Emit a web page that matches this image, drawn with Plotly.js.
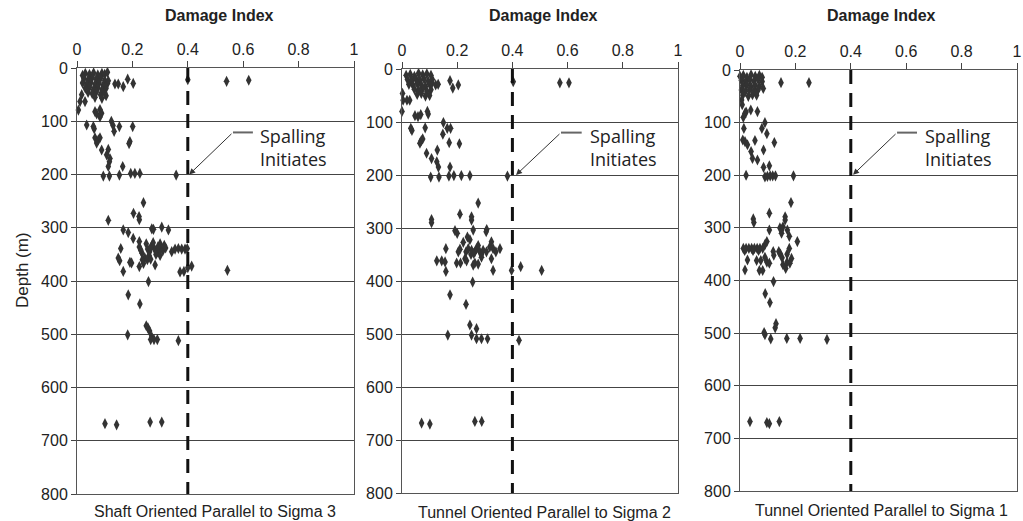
<!DOCTYPE html>
<html>
<head>
<meta charset="utf-8">
<script src="https://cdn.plot.ly/plotly-3.0.1.min.js"></script>
<style>html,body{margin:0;padding:0;background:#fff;}#chart{width:1023px;height:521px;}</style>
</head>
<body>
<div id="chart"></div>
<script>
// ---------- DATA ----------
const panelCaptions = ["Shaft Oriented Parallel to Sigma 3", "Tunnel Oriented Parallel to Sigma 2", "Tunnel Oriented Parallel to Sigma 1"];
const xAxisTitle = "Damage Index";
const yAxisTitle = "Depth (m)";
const spallingLabel = "Spalling<br>Initiates";
const spallingThreshold = 0.4;
const depthRange = [0, 800];
const xTickVals = [0, 0.2, 0.4, 0.6, 0.8, 1];
const xTickText = ["0", "0.2", "0.4", "0.6", "0.8", "1"];
const yTickVals = [0, 100, 200, 300, 400, 500, 600, 700, 800];

// Shaft parallel to Sigma 3
const sigma3Damage = [
0.02,0.03,0.045,0.06,0.075,0.09,0.10,0.11,
0.025,0.04,0.055,0.07,0.085,0.10,
0.02,0.035,0.05,0.065,0.08,0.095,0.11,
0.03,0.045,0.06,0.075,0.09,0.105,
0.04,0.055,0.07,0.085,0.10,
0.065,0.09,0.105,
0.113,0.137,0.149,0.167,0.183,0.203,
0.40,0.54,0.62,
0.017,0.011,0.029,0.005,
0.065,0.071,0.083,0.089,0.083,
0.035,0.059,0.062,0.124,0.130,0.134,0.153,0.201,
0.065,0.077,0.083,0.071,0.191,0.188,
0.089,0.113,0.107,0.119,0.117,0.113,0.165,
0.095,0.117,0.153,0.194,0.209,0.227,0.358,
0.24,0.204,0.224,0.113,0.225,
0.167,0.185,0.203,0.225,0.27,0.276,0.306,0.33,
0.158,0.225,
0.25,0.255,0.262,0.27,0.28,0.29,0.30,0.30,0.31,0.32,0.26,0.285,0.30,0.235,0.23,0.245,0.275,0.315,0.265,0.292,
0.342,0.354,0.366,0.378,0.39,0.398,
0.149,0.154,0.191,0.197,0.167,0.225,0.236,0.24,0.282,0.254,0.266,
0.372,0.386,0.40,0.414,0.543,
0.258,0.185,0.227,
0.25,0.256,0.262,0.183,0.27,0.278,0.29,0.266,0.366,
0.101,0.143,0.264,0.306];
const sigma3Depth = [
14,10,12,9,13,10,12,8,
20,22,18,21,19,23,
28,30,27,31,28,32,29,
38,36,40,37,41,38,
46,48,45,50,47,
55,57,52,
24,30,30,35,21,29,
22,25,23,
50,63,63,79,
82,86,78,85,92,
107,110,114,100,108,119,110,110,
131,135,131,141,138,142,
154,153,163,170,176,185,185,
203,203,201,198,198,198,201,
253,273,279,286,285,
304,309,320,326,302,303,299,304,
339,336,
330,340,345,334,340,345,330,338,343,338,352,350,352,348,342,357,328,333,338,336,
345,340,339,340,340,339,
357,362,365,366,382,373,360,367,370,360,359,
383,382,375,372,380,
401,426,443,
484,488,494,501,505,510,510,510,512,
668,670,665,665];

// Tunnel parallel to Sigma 2
const sigma2Damage = [
0.015,0.03,0.045,0.06,0.075,0.09,0.105,
0.02,0.035,0.05,0.065,0.08,0.095,0.11,
0.025,0.04,0.055,0.07,0.085,0.10,
0.045,0.06,0.075,0.09,0.105,
0.055,0.07,0.085,0.10,
0.108,0.122,0.131,0.174,0.184,0.204,
0.403,0.572,0.605,
0.002,0.004,0.018,0.028,0.0,
0.047,0.058,0.068,0.092,0.095,
0.032,0.036,0.084,0.150,0.164,0.176,0.148,
0.171,0.208,0.07,0.065,0.075,
0.089,0.128,0.107,0.126,0.132,0.174,
0.104,0.134,0.170,0.188,0.215,0.246,0.382,
0.276,0.210,0.252,0.107,0.107,0.252,
0.192,0.200,0.258,0.307,0.305,0.222,0.237,0.246,
0.159,0.204,0.21,
0.24,0.252,0.264,0.27,0.276,0.282,0.294,0.306,0.318,0.324,0.33,0.34,0.355,0.25,0.26,0.288,0.232,
0.126,0.144,0.156,0.159,0.198,0.212,0.228,0.234,0.258,0.264,0.276,0.288,0.324,0.33,
0.397,0.430,0.506,
0.256,0.174,0.232,
0.246,0.27,0.166,0.252,0.27,0.288,0.31,0.424,
0.071,0.101,0.264,0.289];
const sigma2Depth = [
12,10,14,8,11,9,12,
20,22,18,21,19,23,20,
29,31,27,30,33,29,
38,40,37,42,39,
48,46,51,50,
27,30,29,22,36,30,
24,26,26,
46,59,59,59,80,
88,90,86,80,85,
112,116,111,101,112,112,123,
139,141,135,140,132,
159,153,169,175,185,185,
204,204,202,201,201,201,202,
253,274,279,284,290,285,
305,310,304,303,307,327,317,322,
339,345,340,
339,342,345,339,333,345,342,345,336,326,339,345,339,350,348,350,345,
362,362,364,382,366,366,358,362,370,366,368,355,358,380,
380,373,380,
402,426,444,
483,490,502,502,509,509,509,512,
668,670,665,665];

// Tunnel parallel to Sigma 1
const sigma1Damage = [
0.0,0.012,0.025,0.04,0.055,0.07,0.08,
0.005,0.02,0.035,0.05,0.065,0.08,
0.01,0.025,0.04,0.055,0.07,
0.005,0.02,0.035,0.05,0.065,
0.01,0.03,0.045,
0.148,0.249,0.084,0.058,0.06,
0.006,0.018,0.022,0.039,0.063,0.008,0.012,
0.014,0.079,0.09,0.097,
0.01,0.018,0.027,0.054,0.124,0.085,0.04,0.045,0.063,
0.085,0.106,
0.022,0.09,0.099,0.109,0.118,0.128,0.193,
0.184,0.106,0.163,0.048,0.05,0.163,
0.106,0.144,0.15,0.155,0.15,0.171,0.178,0.207,0.097,0.09,
0.012,0.022,0.032,0.042,0.052,0.062,0.072,0.082,0.017,0.047,0.067,
0.12,0.122,0.14,0.146,0.152,0.17,0.178,0.186,0.18,0.155,0.165,0.17,
0.027,0.06,0.075,0.097,0.106,0.09,
0.018,0.07,0.082,
0.121,0.091,0.108,0.13,0.127,0.087,0.09,
0.111,0.169,0.217,0.314,
0.036,0.097,0.106,0.142];
const sigma1Depth = [
12,10,14,9,12,10,14,
20,22,19,21,18,22,
30,28,32,29,31,
38,40,37,41,38,
48,50,47,
24,24,35,44,48,
57,82,80,76,79,66,90,
111,111,100,121,
133,136,142,134,138,152,155,168,171,
185,182,
200,203,202,201,201,201,201,
252,272,279,283,290,285,
304,300,304,298,310,304,316,326,326,332,
339,339,339,339,339,339,339,339,343,343,343,
345,352,345,350,357,350,339,358,367,370,377,365,
361,362,362,365,367,356,
380,381,381,
402,425,442,482,490,499,503,
511,510,510,512,
668,670,672,668];

// ---------- LAYOUT GEOMETRY ----------
const W = 1023, H = 521;
const boxes = [
  {l:77, r:354, t:68, b:494, tip:[0.405,200], elbow:[0.563,121], elbowEnd:[0.635,121], text:[0.655,149], title:219, cap:215, capY:511},
  {l:402, r:678, t:69, b:493, tip:[0.413,200], elbow:[0.576,120], elbowEnd:[0.651,120], text:[0.674,148], title:543, cap:544, capY:512},
  {l:740, r:1017, t:70, b:491, tip:[0.408,199], elbow:[0.567,119], elbowEnd:[0.639,119], text:[0.662,147], title:881, cap:881, capY:510}
];
const seriesX = [sigma3Damage, sigma2Damage, sigma1Damage];
const seriesY = [sigma3Depth, sigma2Depth, sigma1Depth];

const FONT = "Liberation Sans, Arial, sans-serif";
const TXT = "#222";
const data = [];
const layout = {
  width: W, height: H,
  margin: {l:0, r:0, t:0, b:0},
  paper_bgcolor: "#fff", plot_bgcolor: "#fff",
  showlegend: false,
  font: {family: FONT, color: TXT, size: 16},
  annotations: [], shapes: []
};

boxes.forEach((b, i) => {
  const n = i === 0 ? "" : String(i + 1);
  const xa = "x" + n, ya = "y" + n;
  data.push({
    type: "scatter", mode: "markers", x: seriesX[i], y: seriesY[i],
    xaxis: xa, yaxis: ya, cliponaxis: false,
    marker: {symbol: "diamond-tall", size: 8, color: "#333"}
  });
  data.push({
    type: "scatter", mode: "lines",
    x: [spallingThreshold, spallingThreshold], y: depthRange,
    xaxis: xa, yaxis: ya,
    line: {color: "#111", width: 3, dash: "14px,9px"}
  });
  layout["xaxis" + n] = {
    domain: [b.l / W, b.r / W], anchor: ya, side: "top",
    range: [0, 1], tickvals: xTickVals, ticktext: xTickText,
    ticks: "outside", ticklen: 6, tickcolor: "#444",
    showline: true, linecolor: "#555", linewidth: 1, mirror: true,
    showgrid: false, zeroline: false,
    tickfont: {size: 16, color: TXT, family: FONT}
  };
  layout["yaxis" + n] = {
    domain: [1 - b.b / H, 1 - b.t / H], anchor: xa,
    range: [800, 0], tickvals: yTickVals,
    ticks: "outside", ticklen: 5, tickcolor: "#444",
    showline: true, linecolor: "#555", linewidth: 1, mirror: true,
    showgrid: true, gridcolor: "#444", gridwidth: 1, zeroline: false,
    tickfont: {size: 16, color: TXT, family: FONT}
  };
  // Spalling arrow
  layout.annotations.push({
    xref: xa, yref: ya, x: b.tip[0], y: b.tip[1],
    axref: xa, ayref: ya, ax: b.elbow[0], ay: b.elbow[1],
    text: "", showarrow: true, arrowhead: 2, arrowsize: 1.2, arrowwidth: 1, arrowcolor: "#333"
  });
  layout.shapes.push({
    type: "line", xref: xa, yref: ya,
    x0: b.elbow[0], y0: b.elbow[1], x1: b.elbowEnd[0], y1: b.elbowEnd[1],
    line: {color: "#666", width: 2}
  });
  layout.annotations.push({
    xref: xa, yref: ya, x: b.text[0], y: b.text[1],
    xanchor: "left", yanchor: "middle", align: "left",
    text: spallingLabel, showarrow: false,
    font: {size: 18, color: TXT, family: "Open Sans, Noto Sans, sans-serif"}
  });
  // Axis title (top)
  layout.annotations.push({
    xref: "paper", yref: "paper", x: b.title / W, y: 1 - 16 / H,
    xanchor: "center", yanchor: "middle", showarrow: false,
    text: "<b>" + xAxisTitle + "</b>",
    font: {size: 16, color: TXT, family: FONT}
  });
  // Caption (bottom)
  layout.annotations.push({
    xref: "paper", yref: "paper", x: b.cap / W, y: 1 - b.capY / H,
    xanchor: "center", yanchor: "middle", showarrow: false,
    text: panelCaptions[i],
    font: {size: 16, color: TXT, family: FONT}
  });
});

layout.annotations.push({
  xref: "paper", yref: "paper", x: 22 / W, y: 1 - 270 / H,
  xanchor: "center", yanchor: "middle", showarrow: false, textangle: -90,
  text: yAxisTitle, font: {size: 17, color: TXT, family: FONT}
});

Plotly.newPlot("chart", data, layout, {displayModeBar: false, staticPlot: true});
</script>
</body>
</html>
